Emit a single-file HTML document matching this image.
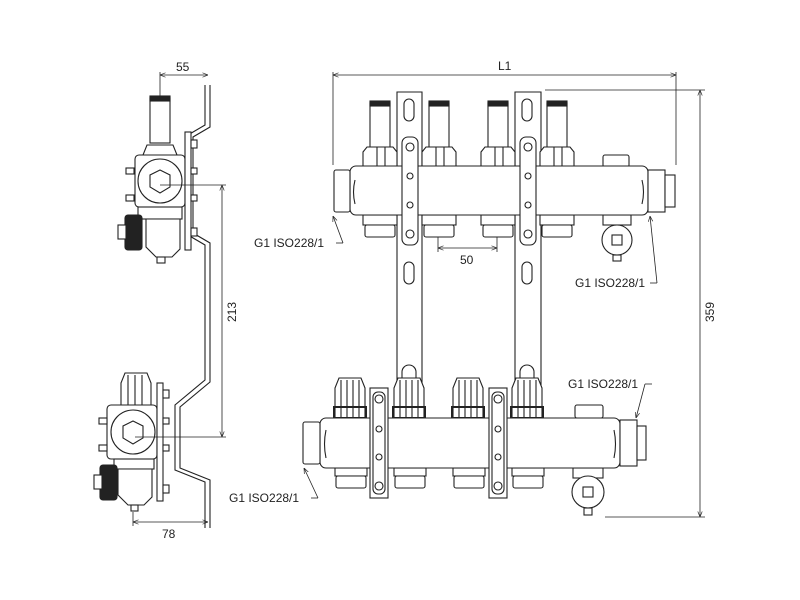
<!DOCTYPE html>
<html><head><meta charset="utf-8"><style>
html,body{margin:0;padding:0;background:#fff;width:800px;height:600px;overflow:hidden}
svg text{font-family:"Liberation Sans",sans-serif;font-size:12px;fill:#222}
</style></head><body>
<svg width="800" height="600" viewBox="0 0 800 600" xmlns="http://www.w3.org/2000/svg">
<defs>
<marker id="a" viewBox="0 0 10 10" refX="10" refY="5" markerWidth="7" markerHeight="7" orient="auto-start-reverse"><path d="M0,1 L10,5 L0,9" fill="none" stroke="#222" stroke-width="1.2"/></marker>
</defs>
<g stroke="#222" fill="#fff" stroke-width="1.1">

<!-- vertical rails front view -->
<path d="M397,92 H422 V385 H397 Z"/>
<path d="M515,92 H541 V385 H515 Z"/>
<rect x="404" y="99" width="10" height="22" rx="5"/>
<rect x="522" y="99" width="10" height="22" rx="5"/>
<rect x="404" y="262" width="10" height="22" rx="5"/>
<rect x="522" y="262" width="10" height="22" rx="5"/>
<path d="M402,380 V372 a7,7 0 0 1 14,0 V380"/>
<path d="M520,380 V372 a7,7 0 0 1 14,0 V380"/>

<!-- TOP MANIFOLD -->
<!-- actuators -->
<g>
<rect x="370" y="103" width="20" height="45"/><rect x="370" y="101" width="20" height="5" fill="#222"/>
<rect x="429" y="103" width="20" height="45"/><rect x="429" y="101" width="20" height="5" fill="#222"/>
<rect x="488" y="103" width="20" height="45"/><rect x="488" y="101" width="20" height="5" fill="#222"/>
<rect x="547" y="103" width="20" height="45"/><rect x="547" y="101" width="20" height="5" fill="#222"/>
<path d="M363,167 V152 l4,-5 h26 l4,5 V167 Z M377,147 V167 M385,147 V167"/>
<path d="M422,167 V152 l4,-5 h26 l4,5 V167 Z M436,147 V167 M444,147 V167"/>
<path d="M481,167 V152 l4,-5 h26 l4,5 V167 Z M495,147 V167 M503,147 V167"/>
<path d="M540,167 V152 l4,-5 h26 l4,5 V167 Z M554,147 V167 M562,147 V167"/>
</g>
<!-- bottom nuts -->
<rect x="363" y="215" width="34" height="10"/><rect x="365" y="225" width="30" height="12" rx="2"/>
<rect x="422" y="215" width="34" height="10"/><rect x="424" y="225" width="30" height="12" rx="2"/>
<rect x="481" y="215" width="34" height="10"/><rect x="483" y="225" width="30" height="12" rx="2"/>
<rect x="540" y="215" width="34" height="10"/><rect x="542" y="225" width="30" height="12" rx="2"/>
<!-- vent -->
<rect x="603" y="155" width="26" height="12" rx="2"/>
<rect x="603" y="215" width="28" height="10"/>
<circle cx="617" cy="240" r="15"/><rect x="612" y="235" width="10" height="10"/>
<rect x="613" y="255" width="8" height="6"/>
<!-- body -->
<rect x="350" y="166" width="298" height="49" rx="6"/>
<path d="M355,180 q-3,12 0,24 M642,180 q3,12 0,24"/>
<rect x="334" y="170" width="16" height="42" rx="2"/>
<rect x="648" y="170" width="17" height="42"/><rect x="665" y="175" width="10" height="32"/>
<!-- straps -->
<rect x="402" y="137" width="16" height="108" rx="6"/>
<rect x="520" y="137" width="16" height="108" rx="6"/>
<g fill="#fff"><circle cx="410" cy="147" r="4"/><circle cx="410" cy="234" r="4"/><circle cx="410" cy="176" r="3"/><circle cx="410" cy="205" r="3"/>
<circle cx="528" cy="147" r="4"/><circle cx="528" cy="234" r="4"/><circle cx="528" cy="176" r="3"/><circle cx="528" cy="205" r="3"/></g>

<!-- BOTTOM MANIFOLD -->
<g>
<path d="M335,418 V388 l4,-10 h22 l4,10 V418 Z M341,380 V418 M347,380 V418 M353,380 V418 M359,380 V418"/>
<path d="M394,418 V388 l4,-10 h22 l4,10 V418 Z M400,380 V418 M406,380 V418 M412,380 V418 M418,380 V418"/>
<path d="M453,418 V388 l4,-10 h22 l4,10 V418 Z M459,380 V418 M465,380 V418 M471,380 V418 M477,380 V418"/>
<path d="M512,418 V388 l4,-10 h22 l4,10 V418 Z M518,380 V418 M524,380 V418 M530,380 V418 M536,380 V418"/>
<rect x="334" y="407" width="32" height="11" fill="none" stroke-width="2"/>
<rect x="393" y="407" width="32" height="11" fill="none" stroke-width="2"/>
<rect x="452" y="407" width="32" height="11" fill="none" stroke-width="2"/>
<rect x="511" y="407" width="32" height="11" fill="none" stroke-width="2"/>
</g>
<rect x="335" y="468" width="32" height="8"/><rect x="336" y="476" width="30" height="12" rx="2"/>
<rect x="394" y="468" width="32" height="8"/><rect x="395" y="476" width="30" height="12" rx="2"/>
<rect x="453" y="468" width="32" height="8"/><rect x="454" y="476" width="30" height="12" rx="2"/>
<rect x="512" y="468" width="32" height="8"/><rect x="513" y="476" width="30" height="12" rx="2"/>
<rect x="575" y="405" width="28" height="13" rx="2"/>
<rect x="573" y="468" width="30" height="10"/>
<circle cx="588" cy="492" r="16"/><rect x="583" y="487" width="10" height="10"/>
<rect x="584" y="508" width="8" height="7"/>
<rect x="320" y="418" width="300" height="50" rx="6"/>
<path d="M326,430 q-3,14 0,28 M614,430 q3,14 0,28"/>
<rect x="303" y="422" width="17" height="42" rx="2"/>
<rect x="620" y="420" width="17" height="46"/><rect x="637" y="426" width="9" height="34"/>
<rect x="370" y="388" width="18" height="110"/>
<rect x="489" y="388" width="18" height="110"/>
<rect x="373" y="392" width="12" height="102" rx="5"/>
<rect x="492" y="392" width="12" height="102" rx="5"/>
<g><circle cx="379" cy="399" r="4"/><circle cx="379" cy="486" r="4"/><circle cx="379" cy="429" r="3"/><circle cx="379" cy="457" r="3"/>
<circle cx="498" cy="399" r="4"/><circle cx="498" cy="486" r="4"/><circle cx="498" cy="429" r="3"/><circle cx="498" cy="457" r="3"/></g>

<!-- SIDE VIEW top -->
<path d="M205,85 V125 L188,135 V235 L205,245 V380 L175,405 V470 L205,482 V528" fill="none"/>
<path d="M210,85 V127 L193,137 V233 L210,243 V382 L180,407 V468 L210,480 V528" fill="none"/>
<rect x="150" y="98" width="20" height="45"/><rect x="150" y="96" width="20" height="5" fill="#222"/>
<path d="M143,155 l4,-10 h26 l4,10 Z"/>
<rect x="135" y="155" width="50" height="52" rx="4"/>
<circle cx="160" cy="181" r="22"/>
<path d="M160,170 l10,5 v12 l-10,6 l-10,-6 v-12 Z"/>
<rect x="138" y="207" width="44" height="12"/>
<path d="M146,219 h34 v30 l-8,8 h-16 l-10,-10 Z"/>
<rect x="125" y="215" width="17" height="35" rx="3" fill="#222"/>
<rect x="118" y="225" width="8" height="14"/>
<rect x="157" y="257" width="8" height="6"/>
<rect x="185" y="132" width="6" height="118"/>
<rect x="126" y="168" width="8" height="6"/><rect x="126" y="195" width="8" height="6"/>
<rect x="191" y="140" width="6" height="8"/><rect x="191" y="168" width="6" height="6"/><rect x="191" y="195" width="6" height="6"/><rect x="191" y="228" width="6" height="8"/>

<!-- SIDE VIEW bottom -->
<path d="M121,383 l4,-10 h22 l4,10 V405 H121 Z M128,375 V405 M135,375 V405 M142,375 V405"/>
<rect x="107" y="405" width="50" height="54" rx="4"/>
<circle cx="133" cy="432" r="22"/>
<path d="M133,421 l10,5 v12 l-10,6 l-10,-6 v-12 Z"/>
<rect x="114" y="459" width="40" height="10"/>
<path d="M118,469 h34 v28 l-8,8 h-16 l-10,-10 Z"/>
<rect x="100" y="465" width="17" height="35" rx="3" fill="#222"/>
<rect x="94" y="475" width="8" height="14"/>
<rect x="131" y="505" width="7" height="6"/>
<rect x="157" y="383" width="6" height="118"/>
<rect x="99" y="418" width="8" height="6"/><rect x="99" y="445" width="8" height="6"/>
<rect x="163" y="390" width="6" height="8"/><rect x="163" y="418" width="6" height="6"/><rect x="163" y="445" width="6" height="6"/><rect x="163" y="485" width="6" height="8"/>
</g>

<!-- dimensions -->
<g stroke="#222" stroke-width="0.8" fill="none">
<line x1="333" y1="75" x2="676" y2="75" marker-start="url(#a)" marker-end="url(#a)"/>
<line x1="333" y1="72" x2="333" y2="165"/><line x1="676" y1="72" x2="676" y2="165"/>
<line x1="545" y1="90" x2="705" y2="90"/><line x1="605" y1="517" x2="705" y2="517"/>
<line x1="700" y1="90" x2="700" y2="517" marker-start="url(#a)" marker-end="url(#a)"/>
<line x1="438" y1="248" x2="497" y2="248" marker-start="url(#a)" marker-end="url(#a)"/>
<line x1="438" y1="237" x2="438" y2="252"/><line x1="497" y1="237" x2="497" y2="252"/>
<line x1="160" y1="185" x2="226" y2="185"/><line x1="135" y1="437" x2="226" y2="437"/>
<line x1="222" y1="185" x2="222" y2="437" marker-start="url(#a)" marker-end="url(#a)"/>
<line x1="160" y1="75" x2="208" y2="75" marker-start="url(#a)" marker-end="url(#a)"/>
<line x1="160" y1="72" x2="160" y2="98"/>
<line x1="133" y1="522" x2="208" y2="522" marker-start="url(#a)" marker-end="url(#a)"/>
<line x1="133" y1="512" x2="133" y2="526"/>
<polyline points="343,243 333,216" marker-end="url(#a)"/>
<line x1="336" y1="243" x2="343" y2="243"/>
<polyline points="657,283 650,216" marker-end="url(#a)"/>
<line x1="650" y1="283" x2="657" y2="283"/>
<polyline points="645,384 636,418" marker-end="url(#a)"/>
<line x1="645" y1="384" x2="652" y2="384"/>
<polyline points="318,498 304,468" marker-end="url(#a)"/>
<line x1="311" y1="498" x2="318" y2="498"/>
</g>
<text x="498" y="70">L1</text>
<text x="460" y="264">50</text>
<text x="176" y="71">55</text>
<text x="162" y="538">78</text>
<text transform="translate(236,322) rotate(-90)">213</text>
<text transform="translate(714,322) rotate(-90)">359</text>
<text x="254" y="247">G1  ISO228/1</text>
<text x="575" y="287">G1  ISO228/1</text>
<text x="568" y="388">G1  ISO228/1</text>
<text x="229" y="502">G1  ISO228/1</text>
</svg>
</body></html>
